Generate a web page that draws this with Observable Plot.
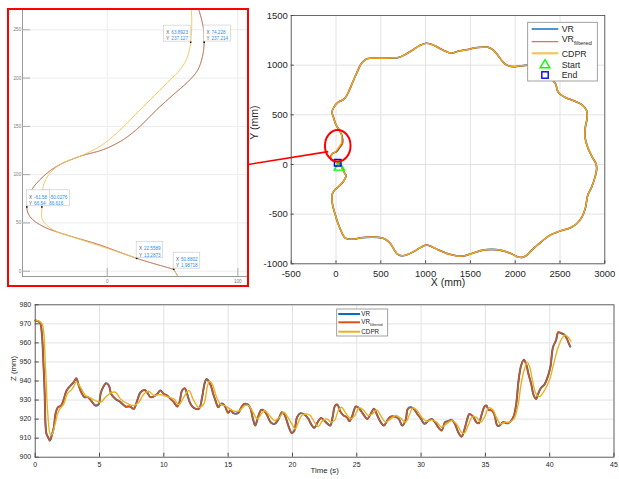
<!DOCTYPE html>
<html><head><meta charset="utf-8">
<script src="https://cdn.jsdelivr.net/npm/d3@7"></script>
<script src="https://cdn.jsdelivr.net/npm/@observablehq/plot@0.6"></script>
<style>
body{margin:0;background:#fff;}
#fig{position:relative;width:619px;height:479px;overflow:hidden;background:#fff;}
#fig svg{position:absolute;overflow:visible;}
</style></head><body><div id="fig"></div>
<script>
// ---------------- DATA ----------------
// XY trajectory (mm): part where VR, VR_filtered and CDPR overlap
const sharedX = [50.9, 70, 95, 112, 100, 75, 30, -19, -42, -45,
  -37, -20, -5, 15, 40, 70, 100, 135, 200, 280,
  400, 504, 560, 615, 653, 690, 746, 802, 877, 951,
  1007, 1063, 1138, 1250, 1362, 1436, 1529, 1623, 1734, 1846,
  1958, 2033, 2078, 2126, 2182, 2257, 2331, 2406, 2518, 2611,
  2686, 2749, 2786, 2809, 2853, 2891, 2909, 2902, 2860, 2809,
  2779, 2783, 2801, 2797, 2741, 2648, 2555, 2480, 2450, 2370,
  2250, 2145, 2033, 1958, 1884, 1809, 1753, 1697, 1623, 1548,
  1473, 1362, 1287, 1231, 1156, 1082, 1007, 933, 858, 783,
  709, 615, 504, 392, 336, 280, 235, 186, 138, 93,
  26, -19, -45, -30, -5, 30, 55];
const sharedY = [2.0, -40, -85, -111, -145, -178, -222, -261, -300, -350,
  -412, -470, -515, -575, -635, -695, -738, -750, -752, -738,
  -731, -738, -758, -805, -865, -905, -919, -905, -872, -832,
  -811, -825, -858, -899, -922, -919, -892, -865, -855, -865,
  -899, -932, -935, -915, -865, -805, -748, -704, -664, -640,
  -597, -523, -429, -312, -228, -127, -44, 7, 74, 174,
  275, 376, 459, 543, 604, 644, 677, 728, 811, 900,
  975, 1000, 989, 986, 1013, 1096, 1153, 1180, 1180, 1174,
  1157, 1140, 1120, 1137, 1170, 1204, 1220, 1197, 1153, 1113,
  1080, 1073, 1070, 1070, 1060, 1013, 929, 828, 727, 660,
  627, 583, 530, 480, 410, 355, 315];
// final approach near the origin (detail shown in the inset)
const vrTailX = [66, 70.3, 73.3, 74.228, 72.8, 69, 61.3, 51, 38.2, 25.4, 12.6, -2.8,
  -20.8, -38.7, -51.5, -59.2, -61.58, -59.2, -49, -31, -5.4, 22.5589, 50.8802];
const vrTailY = [290, 270, 254.5, 237.214, 221.5, 207.6, 195.5, 183.3, 167.7, 150.3, 136.5, 126,
  119, 108.6, 94.8, 80.9, 66.54, 56.6, 46.2, 37.5, 27.1, 13.2873, 1.98718];
const cdprTailX = [60, 64.4, 63.8923, 61.3, 56.2, 46.2, 33.3, 20.5, 7.7, -5.4,
  -20.8, -33.6, -43.8, -49, -50.0276, -49.5, -41.3, -23.3, 0, 22.5589];
const cdprTailY = [300, 270, 237.127, 221.5, 209.4, 195.5, 178, 160.8, 143.4, 129.5,
  119, 112.2, 101.7, 87.8, 66.616, 53.1, 42.7, 34, 23.6, 13.2873];
const startPt = [37, -27];
const endPt = [19, 17];
const zoomCenter = [25, 183];

// data tips in the inset
const tipXs = ["-50.0276", "63.8923", "74.228", "-61.58", "22.5589", "50.8802"];
const tipYs = ["66.616", "237.127", "237.214", "66.54", "13.2873", "1.98718"];
const tipSide = [1, -1, 1, 1, 1, 1];
const tipShowXY = [false, true, true, true, true, true];

// Z (mm) vs time (s)
const vrT = [0, 0.28, 0.41, 0.54, 0.62, 0.73, 0.80, 0.88, 1.0, 1.14,
  1.32, 1.45, 1.58, 1.76, 2.02, 2.23, 2.44, 2.75, 3.0, 3.19,
  3.39, 3.58, 3.83, 4.09, 4.35, 4.69, 4.95, 5.08, 5.28, 5.52,
  5.73, 5.91, 6.24, 6.63, 7.02, 7.36, 7.67, 7.93, 8.19, 8.5,
  8.7, 8.96, 9.22, 9.48, 9.74, 10.0, 10.26, 10.52, 10.78, 11.04,
  11.22, 11.42, 11.63, 11.81, 12.07, 12.33, 12.72, 12.98, 13.16, 13.32,
  13.45, 13.66, 13.84, 14.02, 14.23, 14.43, 14.61, 14.79, 15.0, 15.2,
  15.41, 15.77, 16.03, 16.24, 16.55, 16.75, 16.93, 17.11, 17.32, 17.58,
  17.78, 18.04, 18.3, 18.61, 18.92, 19.18, 19.38, 19.59, 19.77, 19.95,
  20.15, 20.36, 20.62, 20.93, 21.24, 21.44, 21.7, 21.96, 22.22, 22.47,
  22.73, 22.94, 23.12, 23.32, 23.5, 23.71, 23.97, 24.23, 24.43, 24.66,
  24.92, 25.1, 25.31, 25.57, 25.82, 26.08, 26.34, 26.6, 26.86, 27.11,
  27.37, 27.63, 27.94, 28.27, 28.53, 28.79, 28.97, 29.18, 29.43, 29.74,
  30.0, 30.26, 30.52, 30.82, 31.08, 31.34, 31.6, 31.86, 32.11, 32.37,
  32.63, 32.89, 33.14, 33.35, 33.56, 33.76, 34.05, 34.3, 34.48, 34.69,
  34.9, 35.08, 35.26, 35.52, 35.72, 35.93, 36.11, 36.37, 36.75, 37.01,
  37.22, 37.4, 37.58, 37.78, 37.99, 38.17, 38.35, 38.56, 38.76, 38.94,
  39.15, 39.33, 39.59, 39.79, 40.05, 40.26, 40.49, 40.67, 40.88, 41.13,
  41.34, 41.52, 41.6];
const vrZ = [971.8, 971.2, 970, 963, 952.5, 935, 917.5, 912.2, 910.5, 908.7,
  912.2, 915.7, 922.7, 926.2, 927.1, 930.6, 935, 937.6, 939.4, 941.5,
  937.6, 934.1, 931.5, 931.5, 929.7, 927.1, 928, 933.2, 936.7, 938.8,
  937.6, 933.2, 930.6, 928.9, 926.6, 926.6, 925.4, 929.7, 934.1, 935.3,
  934.1, 931.5, 931.9, 933.2, 935, 933.2, 932.4, 930.6, 928.9, 926.6,
  928.9, 935, 936.2, 933.2, 928, 925.9, 925.4, 931.5, 938.5, 941.1,
  940.2, 937.6, 933.2, 929.7, 926.2, 928, 928, 926.2, 923.3, 924.8,
  923.1, 923.1, 926.2, 928, 927.6, 925.4, 920.1, 916.6, 921, 924.8,
  924.5, 921.9, 918.4, 917.5, 920.1, 923.6, 922.4, 918.4, 914.9, 912.6,
  914, 921, 923.1, 922.4, 920.1, 917.5, 915.4, 918.4, 920.6, 919.2,
  917.5, 916.6, 921, 927.1, 927.6, 924.1, 921.9, 921, 918.9, 921.9,
  926.6, 926.2, 924.5, 921.9, 920.1, 922.7, 925.4, 921.9, 918.4, 916.6,
  919.2, 921.3, 921.3, 920.1, 916.6, 919.2, 925.4, 926.2, 925.4, 922.4,
  920.1, 917.5, 918.9, 920.1, 918.4, 915.7, 914, 918.4, 918.9, 919.6,
  917.5, 913.1, 910.8, 914, 919.2, 922.7, 921.3, 918.4, 917.8, 921.9,
  926.2, 927.1, 924.8, 924.5, 921.9, 916.6, 916.6, 918.4, 917.8, 919.2,
  921.9, 928, 940.2, 948.1, 951.1, 948.9, 943.7, 938.5, 932.4, 930.6,
  934.1, 936.4, 938.1, 941.1, 947.2, 957.8, 961.3, 965.6, 965.1, 964.4,
  962.1, 959.2, 958.1];
const cdprT = [0, 0.3, 0.54, 0.8, 0.98, 1.19, 1.32, 1.58, 1.84, 2.23,
  2.49, 2.88, 3.21, 3.52, 3.91, 4.3, 4.69, 5.08, 5.47, 5.85,
  6.24, 6.63, 7.15, 7.67, 8.06, 8.45, 8.83, 9.22, 9.61, 10.0,
  10.39, 10.78, 11.17, 11.55, 11.94, 12.33, 12.72, 13.11, 13.37, 13.55,
  13.76, 14.1, 14.43, 14.74, 15.13, 15.52, 15.9, 16.29, 16.6, 16.93,
  17.27, 17.58, 17.84, 18.22, 18.61, 19.0, 19.33, 19.64, 19.95, 20.21,
  20.46, 20.72, 21.06, 21.39, 21.7, 22.01, 22.35, 22.68, 22.99, 23.3,
  23.56, 23.81, 24.15, 24.54, 24.85, 25.18, 25.52, 25.88, 26.21, 26.55,
  26.91, 27.24, 27.63, 28.02, 28.4, 28.79, 29.12, 29.35, 29.66, 30.05,
  30.44, 30.82, 31.21, 31.6, 31.98, 32.37, 32.76, 33.14, 33.35, 33.66,
  33.97, 34.3, 34.64, 34.95, 35.26, 35.59, 35.85, 36.19, 36.55, 36.88,
  37.22, 37.53, 37.78, 38.04, 38.25, 38.45, 38.69, 38.94, 39.2, 39.59,
  39.97, 40.31, 40.62, 40.93, 41.19, 41.39, 41.65];
const cdprZ = [971.8, 971.4, 970, 947, 922.7, 911.9, 912.2, 918.4, 924.5, 928,
  933.2, 935.9, 939.4, 936.7, 932.4, 931.1, 929.7, 928.9, 931.5, 933.6,
  934.1, 930.6, 928.3, 927.1, 928.9, 933.2, 934.6, 932.4, 932.9, 932.4,
  931.5, 930.6, 927.6, 931.5, 935, 929.7, 926.2, 928, 936.7, 939.9,
  938.5, 931.5, 927.6, 927.1, 925.4, 924.1, 924.5, 927.1, 927.1, 923.6,
  920.1, 922.7, 924.5, 921.9, 919.2, 921, 923.6, 921, 917.5, 914.9,
  918.4, 921.9, 922.7, 921.9, 918.4, 916.1, 919.2, 920.1, 918.4, 919.6,
  924.5, 926.2, 923.1, 920.1, 921.9, 925.9, 924.8, 921.9, 922.7, 924.8,
  921.3, 918.4, 920.1, 921.9, 920.6, 918.4, 922.7, 925.9, 924.8, 921,
  918.9, 919.6, 918.4, 915.7, 917.5, 919.2, 917.5, 913.1, 912.6, 916.6,
  921, 921, 918.4, 921.3, 925.9, 924.8, 921, 917.5, 918.4, 918.4,
  920.1, 927.1, 938.5, 946.4, 949.9, 947.2, 939.4, 933.2, 931.8, 935,
  940.2, 949, 956.9, 962.1, 964.2, 963.3, 960.9];

// tick values
const xyTicksX = [-500, 0, 500, 1000, 1500, 2000, 2500, 3000];
const xyTicksY = [-1000, -500, 0, 500, 1000, 1500];
const zTicksT = [0, 5, 10, 15, 20, 25, 30, 35, 40, 45];
const zTicksZ = [900, 910, 920, 930, 940, 950, 960, 970, 980];
const insetTicksX = [0, 100];
const insetTicksY = [0, 50, 100, 150, 200, 250];

// ---------------- BUILD ----------------
const FONT = "'Liberation Sans', Arial, Helvetica, sans-serif";
const C = {blue: "#0072BD", orange: "#D95319", yellow: "#EDB120", grid: "#e2e2e2", axis: "#4a4a4a", text: "#262626"};
const fig = document.getElementById("fig");
function place(svg, left, top) { svg.style.left = left + "px"; svg.style.top = top + "px"; fig.appendChild(svg); return svg; }
const pts = (xs, ys) => xs.map((x, i) => ({x, y: ys[i]}));
const vrXY = pts(sharedX, sharedY).concat(pts(vrTailX, vrTailY));
const cdprXY = pts(sharedX, sharedY).concat(pts(cdprTailX, cdprTailY));
const fmt = d => String(d);

// ---- main XY plot
const M = {left: 240, top: 0, width: 379, height: 300, ml: 50.7, mr: 14.7, mt: 15, mb: 36.7};
const mainPlot = Plot.plot({
  width: M.width, height: M.height,
  marginLeft: M.ml, marginRight: M.mr, marginTop: M.mt, marginBottom: M.mb,
  style: {fontFamily: FONT, fontSize: "9.5px", color: C.text, background: "transparent"},
  x: {domain: [-500, 3000]}, y: {domain: [-1000, 1500]},
  marks: [
    Plot.gridX({ticks: xyTicksX, stroke: C.grid, strokeOpacity: 1}),
    Plot.gridY({ticks: xyTicksY, stroke: C.grid, strokeOpacity: 1}),
    Plot.line(vrXY, {x: "x", y: "y", stroke: C.blue, strokeWidth: 1.6, curve: "catmull-rom"}),
    Plot.line(vrXY, {x: "x", y: "y", stroke: C.orange, strokeWidth: 1.5, curve: "catmull-rom"}),
    Plot.line(cdprXY, {x: "x", y: "y", stroke: C.yellow, strokeWidth: 1.2, curve: "catmull-rom"}),
    Plot.dot([startPt], {x: d => d[0], y: d => d[1], symbol: "triangle", r: 3.8, stroke: "#00ff00", strokeWidth: 1.4, fill: "none"}),
    Plot.dot([endPt], {x: d => d[0], y: d => d[1], symbol: "square", r: 3.7, stroke: "#0000ff", strokeWidth: 1.4, fill: "none"}),
    Plot.frame({stroke: C.axis, strokeWidth: 0.8}),
    Plot.axisX({ticks: xyTicksX, tickSize: -3, tickPadding: 9, tickFormat: fmt, label: null, stroke: C.axis}),
    Plot.axisY({ticks: xyTicksY, anchor: "left", tickSize: -3, tickPadding: 6.4, tickFormat: fmt, label: null, stroke: C.axis}),
    Plot.text(["X (mm)"], {frameAnchor: "bottom", dy: 21.7, fontSize: 10.5, fill: C.text}),
    Plot.text(["Y (mm)"], {frameAnchor: "left", dx: -(M.ml - 14), rotate: -90, fontSize: 10.5, fill: C.text})
  ]
});
place(mainPlot, M.left, M.top);

// ---- Z vs time plot
const Z = {left: 0, top: 290, width: 619, height: 189, ml: 34.7, mr: 5.5, mt: 14.3, mb: 22.3};
const zPlot = Plot.plot({
  width: Z.width, height: Z.height,
  marginLeft: Z.ml, marginRight: Z.mr, marginTop: Z.mt, marginBottom: Z.mb,
  style: {fontFamily: FONT, fontSize: "7px", color: C.text, background: "transparent"},
  x: {domain: [0, 45]}, y: {domain: [900, 980]},
  marks: [
    Plot.gridX({ticks: zTicksT, stroke: C.grid, strokeOpacity: 1}),
    Plot.gridY({ticks: zTicksZ, stroke: C.grid, strokeOpacity: 1}),
    Plot.line(pts(vrT, vrZ), {x: "x", y: "y", stroke: C.blue, strokeWidth: 2, curve: "catmull-rom"}),
    Plot.line(pts(vrT, vrZ), {x: "x", y: "y", stroke: C.orange, strokeWidth: 1.5, curve: "catmull-rom"}),
    Plot.line(pts(cdprT, cdprZ), {x: "x", y: "y", stroke: C.yellow, strokeWidth: 1.4, curve: "catmull-rom"}),
    Plot.frame({stroke: C.axis, strokeWidth: 0.8}),
    Plot.axisX({ticks: zTicksT, tickSize: -4, tickPadding: 8.8, tickFormat: fmt, label: null, stroke: C.axis}),
    Plot.axisY({ticks: zTicksZ, anchor: "left", tickSize: -4, tickPadding: 8, tickFormat: fmt, label: null, stroke: C.axis}),
    Plot.text(["Time (s)"], {frameAnchor: "bottom", dy: 16, fontSize: 7.8, fill: C.text}),
    Plot.text(["Z (mm)"], {frameAnchor: "left", dx: -21.4, rotate: -90, fontSize: 7.8, fill: C.text})
  ]
});
place(zPlot, Z.left, Z.top);

// ---- inset (zoom near the origin)
const I = {left: 9, top: 10, width: 238, height: 275, ml: 13, mr: 0, mt: 0, mb: 9};
const insetXDom = [-64.85, 107.4], insetYDom = [-5.5, 270];
const kx = (insetXDom[1] - insetXDom[0]) / (I.width - I.ml - I.mr);
const ky = (insetYDom[1] - insetYDom[0]) / (I.height - I.mt - I.mb);
const canvas = document.createElement("canvas").getContext("2d");
canvas.font = "4.6px 'Liberation Sans'";
const tipMarks = [];
tipXs.forEach((xs, i) => {
  const px = Number(xs), py = Number(tipYs[i]);
  const w = 10 + Math.max(canvas.measureText(xs).width, canvas.measureText(tipYs[i]).width);
  const box = {
    x1: tipSide[i] < 0 ? px - w * kx : px,
    x2: tipSide[i] < 0 ? px : px + w * kx,
    y1: py + 0.6 * ky, y2: py + 16.6 * ky
  };
  tipMarks.push(Plot.rect([box], {x1: "x1", x2: "x2", y1: "y1", y2: "y2", fill: "#fff", stroke: "#c6c6c6", strokeWidth: 0.6}));
  if (tipShowXY[i]) tipMarks.push(Plot.text([box], {x: "x1", y: "y2", text: () => "X\nY", dx: 2.3, dy: 4, lineAnchor: "top", textAnchor: "start", lineHeight: 1.37, fontSize: 4.6, fill: "#555"}));
  tipMarks.push(Plot.text([box], {x: "x1", y: "y2", text: () => xs + "\n" + tipYs[i], dx: 7.3, dy: 4, lineAnchor: "top", textAnchor: "start", lineHeight: 1.37, fontSize: 4.6, fill: "#2b8fef"}));
});
const insetPlot = Plot.plot({
  width: I.width, height: I.height,
  marginLeft: I.ml, marginRight: I.mr, marginTop: I.mt, marginBottom: I.mb,
  style: {fontFamily: FONT, fontSize: "4.6px", color: "#777", background: "transparent"},
  x: {domain: insetXDom}, y: {domain: insetYDom},
  marks: [
    Plot.gridX({ticks: insetTicksX, stroke: "#ececec", strokeOpacity: 1}),
    Plot.gridY({ticks: insetTicksY, stroke: "#ececec", strokeOpacity: 1}),
    Plot.line(vrXY, {x: "x", y: "y", stroke: "#5b9bd0", strokeWidth: 0.5, curve: "catmull-rom", clip: true}),
    Plot.line(vrXY, {x: "x", y: "y", stroke: "#d9784e", strokeWidth: 0.9, curve: "catmull-rom", clip: true}),
    Plot.line(cdprXY, {x: "x", y: "y", stroke: "#f2c55a", strokeWidth: 0.9, curve: "catmull-rom", clip: true}),
    Plot.frame({anchor: "left", stroke: "#9a9a9a"}),
    Plot.frame({anchor: "bottom", stroke: "#9a9a9a"}),
    Plot.axisX({ticks: insetTicksX, tickSize: -8, tickPadding: 11.4, tickFormat: fmt, label: null, stroke: "#aaa"}),
    Plot.axisY({ticks: insetTicksY, anchor: "left", tickSize: -8, tickPadding: 9.3, tickFormat: fmt, label: null, stroke: "#aaa"}),
    Plot.dot(tipXs.map((x, i) => [Number(x), Number(tipYs[i])]), {x: d => d[0], y: d => d[1], symbol: "square", r: 0.9, fill: "#111"}),
    ...tipMarks
  ]
});
place(insetPlot, I.left, I.top);

// ---- overlay: inset frame, zoom ellipse, connector, legends
const ov = d3.create("svg").attr("width", 619).attr("height", 479)
  .style("left", "0px").style("top", "0px").style("font-family", FONT);
fig.appendChild(ov.node());
ov.append("rect").attr("x", I.left - 1).attr("y", I.top - 1).attr("width", I.width + 2).attr("height", I.height + 2)
  .attr("fill", "none").attr("stroke", "#ff0000").attr("stroke-width", 2);
const sx = mainPlot.scale("x"), sy = mainPlot.scale("y");
const cx = M.left + sx.apply(zoomCenter[0]), cy = M.top + sy.apply(zoomCenter[1]);
const rx = 12.8, ry = 15.8;
ov.append("line").attr("x1", I.left + I.width + 1).attr("y1", cy + 18.7)
  .attr("x2", cx - 0.74 * rx).attr("y2", cy + 0.37 * ry)
  .attr("stroke", "#ff0000").attr("stroke-width", 1.6);
ov.append("ellipse").attr("cx", cx).attr("cy", cy).attr("rx", rx).attr("ry", ry)
  .attr("fill", "none").attr("stroke", "#ff0000").attr("stroke-width", 2);

function legend(g, box, rows, fs, subFs, subDy) {
  g.append("rect").attr("x", box.x).attr("y", box.y).attr("width", box.w).attr("height", box.h)
    .attr("fill", "#fff").attr("stroke", "#8a8a8a").attr("stroke-width", 0.8);
  rows.forEach(r => {
    if (r.kind === "line") {
      g.append("line").attr("x1", box.lx1).attr("x2", box.lx2).attr("y1", r.y).attr("y2", r.y)
        .attr("stroke", r.color).attr("stroke-width", r.w);
    } else if (r.kind === "tri") {
      const m = (box.lx1 + box.lx2) / 2, s = 4.6;
      g.append("path").attr("d", `M${m},${r.y - s}L${m + s * 1.05},${r.y + s * 0.75}L${m - s * 1.05},${r.y + s * 0.75}Z`)
        .attr("fill", "none").attr("stroke", r.color).attr("stroke-width", 1.4);
    } else {
      const m = (box.lx1 + box.lx2) / 2, s = 3.2;
      g.append("rect").attr("x", m - s).attr("y", r.y - s).attr("width", 2 * s).attr("height", 2 * s)
        .attr("fill", "none").attr("stroke", r.color).attr("stroke-width", 1.4);
    }
    const t = g.append("text").attr("x", box.tx).attr("y", r.base).attr("font-size", fs).attr("fill", C.text);
    t.append("tspan").text(r.label);
    if (r.sub) t.append("tspan").attr("font-size", subFs).attr("dy", subDy).text(r.sub);
  });
}
legend(ov.append("g"), {x: 527.7, y: 22.3, w: 69.6, h: 58.7, lx1: 531.7, lx2: 558.3, tx: 561.7}, [
  {kind: "line", y: 29, color: "#4a98d3", w: 2, label: "VR", base: 32.2},
  {kind: "line", y: 41.7, color: C.orange, w: 1, label: "VR", sub: "filtered", base: 42.4},
  {kind: "line", y: 53.3, color: "#f3c461", w: 2.2, label: "CDPR", base: 56.6},
  {kind: "tri", y: 64.3, color: "#00ff00", label: "Start", base: 67.6},
  {kind: "sq", y: 75, color: "#0000ff", label: "End", base: 78.3}
], 8.8, 6, 3);
legend(ov.append("g"), {x: 336.7, y: 309, w: 51, h: 27, lx1: 338.3, lx2: 360, tx: 361.3}, [
  {kind: "line", y: 314, color: C.blue, w: 2, label: "VR", base: 316.3},
  {kind: "line", y: 322.3, color: C.orange, w: 2, label: "VR", sub: "filtered", base: 323.8},
  {kind: "line", y: 331.7, color: C.yellow, w: 2, label: "CDPR", base: 334}
], 6.3, 4.2, 2.2);
</script></body></html>
